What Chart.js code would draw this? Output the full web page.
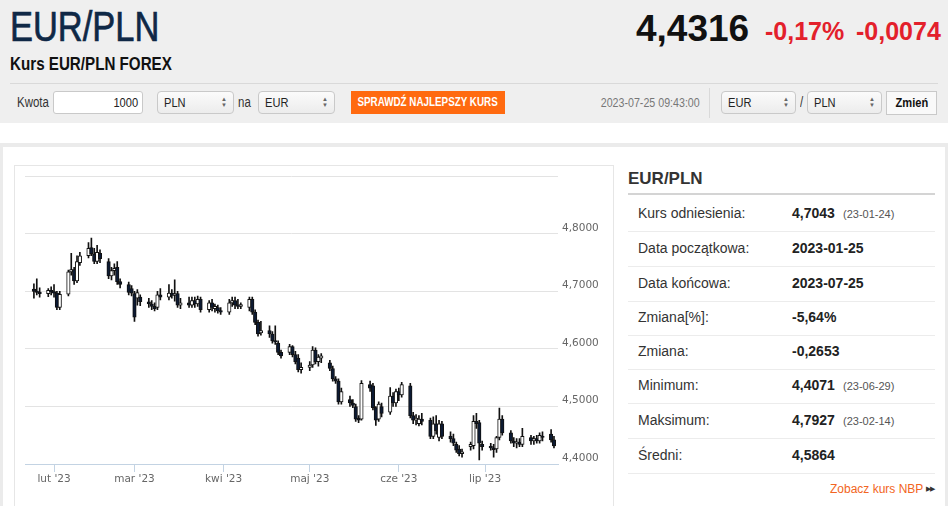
<!DOCTYPE html>
<html lang="pl">
<head>
<meta charset="utf-8">
<title>EUR/PLN</title>
<script src="https://cdn.jsdelivr.net/npm/chart.js@4.4.0/dist/chart.umd.min.js"></script>
<style>
  html, body { margin: 0; padding: 0; }
  body { width: 948px; height: 506px; overflow: hidden; background: #fff; position: relative;
         font-family: 'Liberation Sans', Arial, sans-serif; color: #333; }
  .abs { position: absolute; white-space: nowrap; }
  .n { display: inline-block; transform: scaleX(0.82); transform-origin: left center; }
  .nr { display: inline-block; transform: scaleX(0.82); transform-origin: right center; }
  .nc { display: inline-block; transform: scaleX(0.82); transform-origin: center center; }
  #top { left: 0; top: 0; width: 948px; height: 123px; background: #efefef; }
  #title { left: 10px; top: 6px; font-size: 42px; line-height: 1; color: #0f2846; -webkit-text-stroke: 0.7px #0f2846; }
  #price { left: 636px; top: 10px; font-size: 37px; line-height: 1; font-weight: bold; color: #111; }
  .chg { top: 19px; font-size: 25px; line-height: 1; font-weight: bold; color: #e3202b; }
  #sub { left: 10px; top: 55px; font-size: 18.5px; line-height: 1; font-weight: bold; color: #111; }
  #rule { left: 10px; top: 83px; width: 928px; height: 1px; background: #d9d9d9; }
  .lbl { font-size: 14px; line-height: 23px; top: 91px; color: #333; }
  .box { top: 91px; height: 21px; border: 1px solid #c9c9c9; border-radius: 3px; background: #fff;
         font-size: 13.5px; line-height: 21px; color: #222; }
  .sel { background: linear-gradient(#fbfbfb, #ececec); border-radius: 4px; }
  .sel span.t { position: absolute; left: 6px; top: 0; }
  .sel span.a { position: absolute; right: 6px; top: 4px; font-size: 6px; line-height: 6px; color: #666; }
  #btn { left: 351px; top: 91px; width: 154px; height: 23px; background: #ff6a10; color: #fff;
         font-size: 12px; font-weight: bold; line-height: 23px; display: flex; justify-content: center; }
  #stamp { left: 560px; top: 91px; width: 140px; text-align: right; font-size: 13px; line-height: 23px; color: #777; }
  #vsep { left: 709px; top: 88px; width: 1px; height: 30px; background: #d9d9d9; }
  #zmien { left: 886px; top: 91px; width: 49px; height: 22px; border: 1px solid #c9c9c9; background: #f9f9f9;
           font-size: 13.5px; font-weight: bold; line-height: 22px; display: flex; justify-content: center; color: #111; }
  #band { left: 0; top: 143px; width: 948px; height: 4px; background: #ebebeb; }
  #lborder { left: 0; top: 147px; width: 3px; height: 360px; background: #ebebeb; }
  #rborder { left: 945px; top: 147px; width: 3px; height: 360px; background: #ebebeb; }
  #chartbox { left: 14px; top: 165px; width: 598px; height: 360px; border: 1px solid #e6e6e6; }
  #chartwrap { left: 15px; top: 166px; width: 598px; height: 340px; }
  #phead { left: 628px; top: 170px; font-size: 17px; line-height: 1; font-weight: bold; color: #333; }
  #pline { left: 628px; top: 193px; width: 307px; height: 2px; background: #d4d4d4; }
  .row { left: 628px; width: 307px; height: 1px; background: #ececec; }
  .k { left: 638px; font-size: 14px; line-height: 20px; color: #333; }
  .v { left: 792px; font-size: 14px; line-height: 20px; font-weight: bold; color: #222; }
  .d { left: 843px; font-size: 11px; line-height: 20px; color: #555; }
  #nbp { left: 830px; top: 481px; font-size: 12px; line-height: 16px; color: #f26522; }
  #nbpa { left: 926px; top: 481px; font-size: 7px; line-height: 16px; color: #333; letter-spacing: -1px; }
</style>
</head>
<body>
<div id="top" class="abs"></div>
<div id="title" class="abs"><span class="n">EUR/PLN</span></div>
<div id="price" class="abs">4,4316</div>
<div class="abs chg" style="left:765px">-0,17%</div>
<div class="abs chg" style="left:856px">-0,0074</div>
<div id="sub" class="abs"><span class="n">Kurs EUR/PLN FOREX</span></div>
<div id="rule" class="abs"></div>

<div class="abs lbl" style="left:17px"><span class="n">Kwota</span></div>
<div class="abs box" style="left:53px;width:84px;text-align:right;padding-right:4px"><span class="nr">1000</span></div>
<div class="abs box sel" style="left:157px;width:75px"><span class="t"><span class="n">PLN</span></span><span class="a">▲<br>▼</span></div>
<div class="abs lbl" style="left:238px"><span class="n">na</span></div>
<div class="abs box sel" style="left:258px;width:75px"><span class="t"><span class="n">EUR</span></span><span class="a">▲<br>▼</span></div>
<div id="btn" class="abs"><span class="nc">SPRAWDŹ NAJLEPSZY KURS</span></div>
<div id="stamp" class="abs"><span class="nr">2023-07-25 09:43:00</span></div>
<div id="vsep" class="abs"></div>
<div class="abs box sel" style="left:721px;width:73px"><span class="t"><span class="n">EUR</span></span><span class="a">▲<br>▼</span></div>
<div class="abs lbl" style="left:800px"><span class="n">/</span></div>
<div class="abs box sel" style="left:807px;width:73px"><span class="t"><span class="n">PLN</span></span><span class="a">▲<br>▼</span></div>
<div id="zmien" class="abs"><span class="nc">Zmień</span></div>

<div id="band" class="abs"></div>
<div id="lborder" class="abs"></div>
<div id="rborder" class="abs"></div>
<div id="chartbox" class="abs"></div>
<div id="chartwrap" class="abs"><canvas id="candles" width="598" height="340"></canvas></div>

<div id="phead" class="abs">EUR/PLN</div>
<div id="pline" class="abs"></div>
<div id="panel"></div>
<div id="nbp" class="abs">Zobacz kurs NBP</div>
<div id="nbpa" class="abs">▶▶</div>

<script>
// daily candles, weekdays 2023-01-25 .. 2023-07-25
const dates = [
  '2023-01-25','2023-01-26','2023-01-27','2023-01-30','2023-01-31',
  '2023-02-01','2023-02-02','2023-02-03','2023-02-06','2023-02-07','2023-02-08','2023-02-09','2023-02-10',
  '2023-02-13','2023-02-14','2023-02-15','2023-02-16','2023-02-17','2023-02-20','2023-02-21','2023-02-22',
  '2023-02-23','2023-02-24','2023-02-27','2023-02-28',
  '2023-03-01','2023-03-02','2023-03-03','2023-03-06','2023-03-07','2023-03-08','2023-03-09','2023-03-10',
  '2023-03-13','2023-03-14','2023-03-15','2023-03-16','2023-03-17','2023-03-20','2023-03-21','2023-03-22',
  '2023-03-23','2023-03-24','2023-03-27','2023-03-28','2023-03-29','2023-03-30','2023-03-31',
  '2023-04-03','2023-04-04','2023-04-05','2023-04-06','2023-04-07','2023-04-10','2023-04-11','2023-04-12',
  '2023-04-13','2023-04-14','2023-04-17','2023-04-18','2023-04-19','2023-04-20','2023-04-21','2023-04-24',
  '2023-04-25','2023-04-26','2023-04-27','2023-04-28',
  '2023-05-01','2023-05-02','2023-05-03','2023-05-04','2023-05-05','2023-05-08','2023-05-09','2023-05-10',
  '2023-05-11','2023-05-12','2023-05-15','2023-05-16','2023-05-17','2023-05-18','2023-05-19','2023-05-22',
  '2023-05-23','2023-05-24','2023-05-25','2023-05-26','2023-05-29','2023-05-30','2023-05-31',
  '2023-06-01','2023-06-02','2023-06-05','2023-06-06','2023-06-07','2023-06-08','2023-06-09','2023-06-12',
  '2023-06-13','2023-06-14','2023-06-15','2023-06-16','2023-06-19','2023-06-20','2023-06-21','2023-06-22',
  '2023-06-23','2023-06-26','2023-06-27','2023-06-28','2023-06-29','2023-06-30',
  '2023-07-03','2023-07-04','2023-07-05','2023-07-06','2023-07-07','2023-07-10','2023-07-11','2023-07-12',
  '2023-07-13','2023-07-14','2023-07-17','2023-07-18','2023-07-19','2023-07-20','2023-07-21','2023-07-24',
  '2023-07-25'
];
const opens = [
  4.704,4.700,4.698,4.696,4.702,
  4.699,4.697,4.672,4.695,4.734,4.738,4.718,4.750,4.762,4.776,4.765,4.752,4.766,4.752,4.727,4.736,4.742,4.717,4.712,4.705,
  4.696,4.688,4.690,4.682,4.678,4.674,4.672,4.694,4.690,4.697,4.693,4.696,4.676,4.680,4.676,4.684,4.678,4.686,4.668,4.680,4.670,4.672,4.666,
  4.664,4.680,4.684,4.676,4.674,4.672,4.686,4.664,4.646,4.628,4.632,4.626,4.614,4.610,4.594,4.594,4.604,4.590,4.584,4.564,
  4.568,4.572,4.598,4.578,4.584,4.576,4.566,4.548,4.544,4.508,4.512,4.506,4.500,4.480,4.478,4.538,4.536,4.498,4.478,4.500,4.490,4.518,4.506,
  4.526,4.520,4.536,4.484,4.476,4.470,4.478,4.476,4.448,4.470,4.446,4.470,4.448,4.444,4.434,4.426,4.418,4.430,4.432,4.474,4.472,4.434,
  4.430,4.428,4.426,4.446,4.478,4.454,4.440,4.436,4.438,4.434,4.446,4.440,4.444,4.440,4.448,4.452,4.442
];
const highs = [
  4.713,4.722,4.706,4.705,4.708,
  4.712,4.700,4.700,4.737,4.766,4.742,4.762,4.768,4.785,4.7927,4.775,4.780,4.772,4.757,4.742,4.748,4.752,4.722,4.716,4.710,
  4.700,4.703,4.694,4.688,4.684,4.680,4.700,4.705,4.712,4.703,4.720,4.700,4.688,4.690,4.690,4.690,4.692,4.690,4.684,4.686,4.678,4.676,4.672,
  4.686,4.690,4.690,4.686,4.680,4.690,4.690,4.668,4.650,4.648,4.640,4.630,4.640,4.614,4.598,4.608,4.606,4.596,4.590,4.576,
  4.578,4.604,4.602,4.590,4.592,4.580,4.570,4.552,4.548,4.532,4.518,4.512,4.504,4.484,4.545,4.544,4.540,4.500,4.508,4.506,4.533,4.524,4.530,
  4.532,4.542,4.540,4.490,4.486,4.484,4.488,4.480,4.482,4.484,4.476,4.474,4.456,4.452,4.438,4.432,4.426,4.438,4.484,4.488,4.476,4.440,
  4.436,4.434,4.448,4.497,4.484,4.458,4.446,4.444,4.444,4.462,4.450,4.448,4.450,4.454,4.456,4.460,4.448
];
const lows = [
  4.688,4.694,4.690,4.691,4.694,
  4.690,4.668,4.668,4.692,4.728,4.712,4.715,4.745,4.758,4.762,4.748,4.748,4.750,4.722,4.720,4.728,4.712,4.706,4.694,4.692,
  4.648,4.676,4.675,4.672,4.668,4.666,4.668,4.685,4.685,4.688,4.683,4.672,4.670,4.672,4.672,4.672,4.674,4.664,4.664,4.666,4.664,4.662,4.660,
  4.660,4.674,4.670,4.670,4.670,4.666,4.660,4.642,4.622,4.624,4.620,4.610,4.608,4.590,4.584,4.590,4.586,4.574,4.560,4.558,
  4.562,4.568,4.574,4.570,4.576,4.562,4.544,4.540,4.504,4.504,4.500,4.498,4.474,4.472,4.476,4.526,4.494,4.467,4.474,4.482,4.486,4.500,4.500,
  4.510,4.516,4.480,4.470,4.468,4.466,4.468,4.444,4.444,4.452,4.440,4.444,4.438,4.432,4.420,4.414,4.412,4.424,4.426,4.462,4.4071,4.424,
  4.424,4.412,4.420,4.442,4.450,4.436,4.430,4.428,4.430,4.430,4.434,4.434,4.436,4.436,4.440,4.438,4.428
];
const closes = [
  4.700,4.698,4.696,4.702,4.699,
  4.697,4.672,4.695,4.734,4.738,4.718,4.752,4.762,4.775,4.765,4.752,4.768,4.757,4.727,4.736,4.740,4.717,4.712,4.698,4.697,
  4.655,4.698,4.682,4.678,4.674,4.670,4.694,4.690,4.697,4.693,4.696,4.676,4.680,4.676,4.684,4.678,4.686,4.668,4.680,4.672,4.674,4.666,4.664,
  4.680,4.684,4.676,4.674,4.677,4.686,4.664,4.646,4.626,4.632,4.626,4.614,4.612,4.594,4.588,4.604,4.590,4.578,4.564,4.568,
  4.572,4.598,4.578,4.586,4.588,4.566,4.548,4.544,4.508,4.526,4.506,4.502,4.478,4.476,4.540,4.532,4.498,4.476,4.504,4.488,4.518,4.506,4.526,
  4.520,4.538,4.484,4.476,4.480,4.478,4.474,4.448,4.470,4.458,4.470,4.448,4.444,4.436,4.424,4.418,4.421,4.434,4.474,4.470,4.436,4.430,
  4.428,4.425,4.446,4.478,4.454,4.440,4.436,4.438,4.434,4.448,4.440,4.444,4.440,4.450,4.446,4.442,4.4316
];
const tickDates = ['2023-02-01','2023-03-01','2023-04-01','2023-05-01','2023-06-01','2023-07-01'];
const tickLabels = ["lut '23", "mar '23", "kwi '23", "maj '23", "cze '23", "lip '23"];

// side panel
const statNames = ['Kurs odniesienia:', 'Data początkowa:', 'Data końcowa:', 'Zmiana[%]:', 'Zmiana:', 'Minimum:', 'Maksimum:', 'Średni:'];
const statValues = ['4,7043', '2023-01-25', '2023-07-25', '-5,64%', '-0,2653', '4,4071', '4,7927', '4,5864'];
const statDates = ['(23-01-24)', '', '', '', '', '(23-06-29)', '(23-02-14)', ''];

const rowTops = [196, 231, 266, 300, 334, 368, 403, 438];
const rowH = 35;
const panel = document.getElementById('panel');
statNames.forEach((name, i) => {
  const mid = rowTops[i] + rowH / 2 - 1;
  panel.insertAdjacentHTML('beforeend',
    `<div class="abs k" style="top:${mid - 10}px">${name}</div>` +
    `<div class="abs v" style="top:${mid - 10}px">${statValues[i]}</div>` +
    (statDates[i] ? `<div class="abs d" style="top:${mid - 9}px">${statDates[i]}</div>` : '') +
    `<div class="abs row" style="top:${rowTops[i] + rowH}px"></div>`);
});

// day of year, 1 = Jan 1
const dayNum = s => {
  const [y, m, d] = s.split('-').map(Number);
  return (Date.UTC(y, m - 1, d) - Date.UTC(y, 0, 1)) / 86400000 + 1;
};
const xs = dates.map(dayNum);
const tickXs = tickDates.map(dayNum);

const ctx = document.getElementById('candles').getContext('2d');
new Chart(ctx, {
  type: 'bar',
  data: {
    datasets: [{
      label: 'body',
      order: 0,
      data: xs.map((x, i) => ({ x: x, y: [opens[i], closes[i]] })),
      backgroundColor: closes.map((c, i) => c >= opens[i] ? '#ffffff' : '#0c1a33'),
      borderColor: '#111111',
      borderWidth: 1,
      borderSkipped: false,
      barThickness: 3.5,
      minBarLength: 1.5,
      grouped: false
    }, {
      label: 'wick',
      order: 1,
      data: xs.map((x, i) => ({ x: x, y: [lows[i], highs[i]] })),
      backgroundColor: '#111111',
      borderWidth: 0,
      barThickness: 1,
      grouped: false
    }]
  },
  options: {
    responsive: false,
    animation: false,
    layout: { padding: { left: 10, top: 9, right: 0, bottom: 0 } },
    plugins: { legend: { display: false }, tooltip: { enabled: false } },
    scales: {
      x: {
        type: 'linear',
        min: 21.9,
        max: 207.4,
        offset: false,
        grid: { offset: false, drawOnChartArea: false, drawTicks: true, tickLength: 8, color: '#c3d3e3' },
        border: { color: '#c3d3e3' },
        afterBuildTicks: axis => { axis.ticks = tickXs.map(v => ({ value: v })); },
        afterFit: axis => { axis.height = 42; },
        ticks: {
          autoSkip: false,
          maxRotation: 0,
          padding: 1,
          color: '#666',
          font: { family: 'DejaVu Sans', size: 10.5 },
          callback: v => tickLabels[tickXs.indexOf(v)]
        }
      },
      y: {
        position: 'right',
        min: 4.4,
        max: 4.9,
        grid: {
          drawTicks: false,
          color: c => Math.abs(c.tick.value - 4.4) < 1e-6 ? 'rgba(0,0,0,0)' : '#e3e3e3'
        },
        border: { display: false },
        afterFit: axis => { axis.width = 55; },
        ticks: {
          stepSize: 0.1,
          padding: 4,
          labelOffset: -6,
          color: '#666',
          font: { family: 'DejaVu Sans', size: 10.5 },
          callback: v => v > 4.85 ? '' : v.toFixed(4).replace('.', ',')
        }
      }
    }
  }
});
</script>
</body>
</html>
